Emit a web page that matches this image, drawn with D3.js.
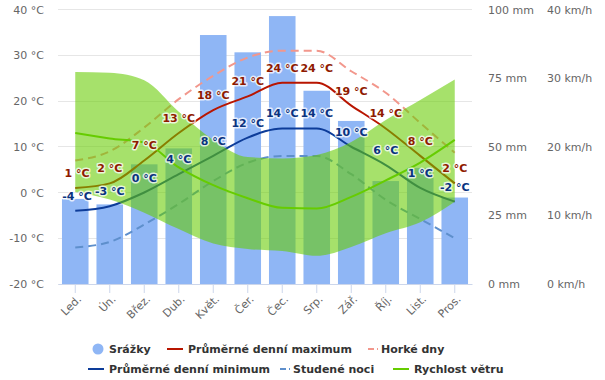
<!DOCTYPE html>
<html><head><meta charset="utf-8">
<script src="https://cdn.jsdelivr.net/npm/d3@7"></script>
<style>body{margin:0;background:#fff;overflow:hidden} text{font-family:"DejaVu Sans",sans-serif}</style>
</head><body><svg id="c" width="605" height="380"></svg>
<script>
const months = ["Led.","Ún.","Břez.","Dub.","Květ.","Čer.","Čec.","Srp.","Zář.","Říj.","List.","Pros."];
const precipitation = [31, 29, 43.6, 49.4, 90.7, 84.4, 97.6, 70.4, 59.4, 37.5, 42.3, 31.5];
const tempMax = [1, 2, 7, 13, 18, 21, 24, 24, 19, 14, 8, 2];
const tempMin = [-4, -3, 0, 4, 8, 12, 14, 14, 10, 6, 1, -2];
const hotDays = [7, 9, 14.2, 20.4, 25.5, 29.5, 31, 31, 26.5, 21.8, 15.2, 8.7];
const coldNights = [-12, -10.8, -7, -2.5, 2.5, 6.5, 8, 8, 4, -1.6, -5.8, -10];
const windSpeed = [22, 21.2, 20.6, 17, 14.4, 12.5, 11.1, 11, 12.7, 15.1, 17.7, 21];
const windLow = [13.4, 12.3, 10.4, 8, 5.9, 5.1, 4.8, 4.1, 5.4, 7.4, 9, 12];
const windHigh = [30.9, 30.8, 29.7, 25.1, 21, 18.5, 18.3, 18.8, 20.7, 23.9, 26.8, 29.8];
const tempTicks = [-20, -10, 0, 10, 20, 30, 40];
const precipTicks = [0, 25, 50, 75, 100];
const windTicks = [0, 10, 20, 30, 40];

const C = {bar:"#8fb6f5", max:"#b81500", min:"#0d3c99", hot:"#f2978c", cold:"#5e8fcc", wind:"#66cc00",
           maxLbl:"#8f1a00", minLbl:"#0a3380", axis:"#666666", grid:"#e6e6e6", legend:"#333333"};

const svg = d3.select("#c");
const L = 58, R = 472, T = 9.5, B = 284;
const x = d3.scaleBand().domain(months).range([L, R]).paddingInner(0.23).paddingOuter(0.115);
const cx = m => x(m) + x.bandwidth() / 2;
const yT = d3.scaleLinear().domain([-20, 40]).range([B, T]);
const yP = d3.scaleLinear().domain([0, 100]).range([B, T]);
const yW = d3.scaleLinear().domain([0, 40]).range([B, T]);

// grid
svg.append("g").selectAll("line").data(tempTicks).join("line")
  .attr("x1", L).attr("x2", R).attr("y1", d => yT(d)).attr("y2", d => yT(d))
  .attr("stroke", C.grid).attr("stroke-width", 1).attr("shape-rendering", "crispEdges");

// bars
svg.append("g").selectAll("rect").data(months).join("rect")
  .attr("x", m => x(m)).attr("width", x.bandwidth())
  .attr("y", (m, i) => yP(precipitation[i])).attr("height", (m, i) => B - yP(precipitation[i]))
  .attr("fill", C.bar);

const lineGen = (sc) => d3.line().x((d, i) => cx(months[i])).y(d => sc(d)).curve(d3.curveMonotoneX);

function drawLine(data, sc, color, dash) {
  svg.append("path").datum(data).attr("d", lineGen(sc)).attr("fill", "none")
    .attr("stroke", color).attr("stroke-width", 2).attr("stroke-dasharray", dash || null)
    .attr("stroke-linejoin", "round");
}
drawLine(hotDays, yT, C.hot, "8,5");
drawLine(coldNights, yT, C.cold, "8,5");
drawLine(tempMax, yT, C.max);
drawLine(tempMin, yT, C.min);

// wind range area
const area = d3.area().x((d, i) => cx(months[i])).y0((d, i) => yW(windLow[i])).y1(d => yW(d)).curve(d3.curveMonotoneX);
svg.append("path").datum(windHigh).attr("d", area).attr("fill", C.wind).attr("fill-opacity", 0.58);
drawLine(windSpeed, yW, C.wind);

// data labels
function labels(data, color) {
  svg.append("g").selectAll("text").data(data).join("text")
    .attr("x", (d, i) => Math.max(cx(months[i]), L + 19)).attr("y", d => yT(d) - 11)
    .attr("text-anchor", "middle").attr("font-size", 11).attr("font-weight", "bold")
    .attr("fill", color).attr("stroke", "rgba(255,255,255,0.75)").attr("stroke-width", 3)
    .attr("stroke-linejoin", "round").attr("paint-order", "stroke")
    .text(d => d + " °C");
}
labels(tempMax, C.maxLbl);
labels(tempMin, C.minLbl);

// axes
function styleAxis(g) {
  g.select(".domain").remove();
  g.selectAll("text").attr("fill", C.axis).attr("font-size", 11).attr("font-family", "DejaVu Sans");
}
svg.append("g").attr("transform", `translate(${L},0)`)
  .call(d3.axisLeft(yT).tickValues(tempTicks).tickFormat(d => d + " °C").tickSize(0).tickPadding(14))
  .call(styleAxis);
svg.append("g").attr("transform", `translate(${R},0)`)
  .call(d3.axisRight(yP).tickValues(precipTicks).tickFormat(d => d + " mm").tickSize(0).tickPadding(16))
  .call(styleAxis);
svg.append("g").attr("transform", `translate(${R},0)`)
  .call(d3.axisRight(yW).tickValues(windTicks).tickFormat(d => d + " km/h").tickSize(0).tickPadding(75))
  .call(styleAxis);

const xa = svg.append("g").attr("transform", `translate(0,${B})`)
  .call(d3.axisBottom(x).tickSize(9).tickSizeOuter(0));
xa.select(".domain").attr("stroke", "#ccd6eb");
xa.selectAll(".tick line").attr("stroke", "#ccd6eb");
xa.selectAll(".tick text").attr("fill", C.axis).attr("font-size", 11).attr("font-family", "DejaVu Sans")
  .attr("text-anchor", "end").attr("dy", "0.35em").attr("y", 0)
  .attr("transform", "translate(4,13) rotate(-45)");

// legend
const lg = svg.append("g").attr("font-size", 11).attr("font-weight", "bold").attr("fill", C.legend);
const legendItems = [
  {name:"Srážky", type:"circle", color:C.bar, sx:90, tx:109, y:349},
  {name:"Průměrné denní maximum", type:"line", color:C.max, sx:167, tx:188, y:349},
  {name:"Horké dny", type:"dash", color:C.hot, sx:365, tx:381, y:349},
  {name:"Průměrné denní minimum", type:"line", color:C.min, sx:88, tx:109, y:369},
  {name:"Studené noci", type:"dash", color:C.cold, sx:277, tx:293, y:369},
  {name:"Rychlost větru", type:"line", color:C.wind, sx:393, tx:414, y:369}
];
legendItems.forEach(it => {
  if (it.type === "circle") {
    lg.append("circle").attr("cx", it.sx + 8).attr("cy", it.y).attr("r", 5.5).attr("fill", it.color);
  } else if (it.type === "line") {
    lg.append("line").attr("x1", it.sx).attr("x2", it.sx + 16).attr("y1", it.y).attr("y2", it.y)
      .attr("stroke", it.color).attr("stroke-width", 2);
  } else {
    lg.append("line").attr("x1", it.sx).attr("x2", it.sx + 13).attr("y1", it.y).attr("y2", it.y)
      .attr("stroke", it.color).attr("stroke-width", 2).attr("stroke-dasharray", "0,3,6,3,2,10");
  }
  lg.append("text").attr("x", it.tx).attr("y", it.y + 4).text(it.name);
});
</script></body></html>
